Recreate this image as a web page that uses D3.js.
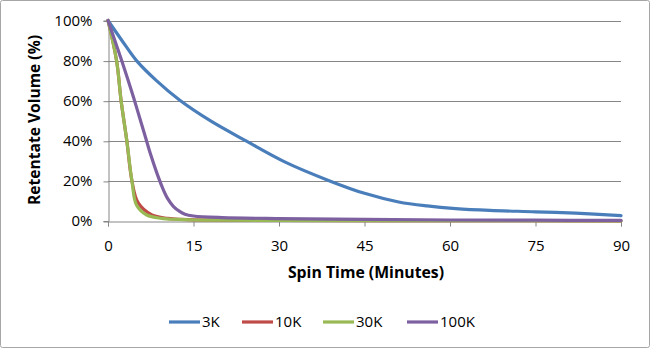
<!DOCTYPE html>
<html><head><meta charset="utf-8">
<script src="https://cdn.jsdelivr.net/npm/d3@7/dist/d3.min.js"></script>
<style>body{margin:0;background:#fff}svg{display:block;font-family:"Open Sans","Noto Sans",sans-serif}</style>
</head><body><svg id="c" width="650" height="349"></svg>
<script>
const xTicks = [0, 15, 30, 45, 60, 75, 90];
const yTicks = [0, 20, 40, 60, 80, 100];
const seriesNames = ["3K", "10K", "30K", "100K"];
const colors = ["#4a7ebb", "#be4b48", "#98b954", "#7d60a0"];
const t3K   = [0, 2.5, 5, 8.5, 12.6, 18, 24.3, 31, 38.9, 45, 51, 56, 61, 67, 75, 82, 90];
const v3K   = [100, 89.8, 80, 70, 60.2, 49.9, 39.8, 29.5, 20, 13.8, 9.5, 7.5, 6.2, 5.3, 4.6, 3.9, 2.7];
const t10K  = [0, 1.5, 2.3, 3.3, 4.2, 5.3, 7.7, 10.5, 13, 15, 20, 30, 60, 90];
const v10K  = [100, 80, 60, 40, 20, 9, 3, 1.3, 0.8, 0.6, 0.4, 0.3, 0.2, 0.1];
const t30K  = [0, 1.5, 2.3, 3.3, 4.2, 5, 6.8, 9.4, 12, 15, 20, 30, 60, 90];
const v30K  = [100, 80, 60, 40, 20, 8, 3, 1.3, 0.8, 0.5, 0.4, 0.3, 0.2, 0.1];
const t100K = [0, 1.2, 2.4, 3.5, 4.5, 5.5, 6.5, 7.5, 8.5, 9.5, 10.5, 11.5, 12.5, 13.5, 15, 20, 30, 45, 60, 75, 90];
const v100K = [100, 90, 80, 70.5, 61.5, 52, 42.5, 33, 24.5, 17, 11, 7.2, 4.9, 3.4, 2.5, 1.7, 1.2, 0.8, 0.5, 0.4, 0.3];

const times = [t3K, t10K, t30K, t100K];
const vals = [v3K, v10K, v30K, v100K];

const svg = d3.select("#c");
const m = {l:108, r:621, t:20.5, b:221};
const x = d3.scaleLinear().domain([0, 90]).range([m.l, m.r]);
const y = d3.scaleLinear().domain([0, 100]).range([m.b, m.t]);
const axisCol = "#868686";

svg.append("rect").attr("x",0.5).attr("y",0.5).attr("width",649).attr("height",347)
  .attr("fill","#fff").attr("stroke","#a6a6a6").attr("rx",2);

// gridlines
svg.append("g").selectAll("line").data(yTicks.filter(d=>d>0)).join("line")
  .attr("x1", m.l).attr("x2", m.r).attr("y1", d=>Math.round(y(d))+0.5).attr("y2", d=>Math.round(y(d))+0.5)
  .attr("stroke", axisCol).attr("stroke-width",1);

// y axis
const ya = svg.append("g").attr("transform",`translate(${m.l+0.5},0)`)
  .call(d3.axisLeft(y).tickValues(yTicks).tickSize(5).tickPadding(11).tickFormat(d=>d+"%"));
// x axis
const xa = svg.append("g").attr("transform",`translate(0,${Math.round(m.b)+0.5})`)
  .call(d3.axisBottom(x).tickValues(xTicks).tickSize(5).tickPadding(14));
[ya, xa].forEach(a=>{
  a.select(".domain").attr("stroke", axisCol);
  a.selectAll(".tick line").attr("stroke", axisCol);
  a.selectAll(".tick text").attr("fill","#000").attr("font-size","15px").attr("font-family",'"Open Sans",sans-serif');
});
ya.selectAll(".tick line").attr("transform","translate(0,0.5)");

// lines
const line = d3.line().x(d=>x(d[0])).y(d=>y(d[1])).curve(d3.curveCatmullRom.alpha(0.5));
seriesNames.forEach((n,i)=>{
  const pts = times[i].map((t,j)=>[t, vals[i][j]]);
  svg.append("path").datum(pts).attr("d", line).attr("fill","none")
    .attr("stroke", colors[i]).attr("stroke-width",3.2).attr("stroke-linejoin","round").attr("stroke-linecap","round");
});

// titles
svg.append("text").attr("x", 366).attr("y", 278).attr("text-anchor","middle")
  .attr("font-size","15.8px").attr("font-weight","bold").text("Spin Time (Minutes)");
svg.append("text").attr("transform","translate(40,120) rotate(-90)").attr("text-anchor","middle")
  .attr("font-size","15.6px").attr("font-weight","bold").text("Retentate Volume (%)");

// legend
const legX = [169, 242, 323, 407];
const lg = svg.append("g");
seriesNames.forEach((n,i)=>{
  lg.append("line").attr("x1", legX[i]).attr("x2", legX[i]+31).attr("y1",322).attr("y2",322)
    .attr("stroke", colors[i]).attr("stroke-width",3.2);
  lg.append("text").attr("x", legX[i]+33).attr("y", 327).attr("font-size","15px").text(n);
});
</script></body></html>
